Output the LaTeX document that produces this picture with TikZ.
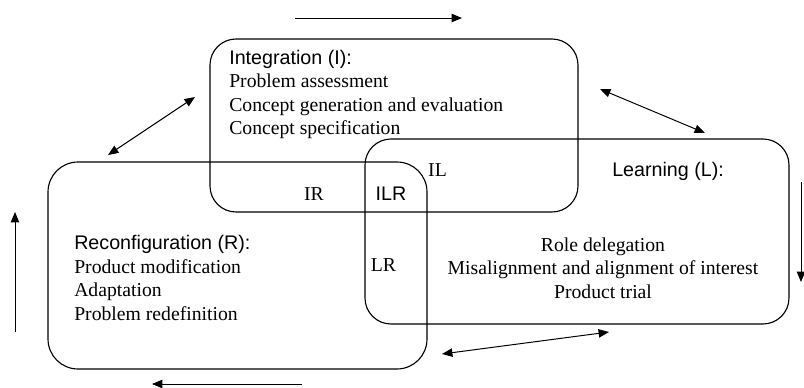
\documentclass[tikz,border=0pt]{standalone}
\usepackage{fontspec}
\setmainfont{Liberation Serif}
\setsansfont{Liberation Sans}
\usetikzlibrary{arrows.meta}

\begin{document}
\begin{tikzpicture}[
      x=0.025cm, y=-0.025cm,
      box/.style={line width=0.8pt, rounded corners=0.65cm},
      txt/.style={inner sep=0pt, font=\fontsize{14}{17}\selectfont},
      hd/.style={inner sep=0pt, font=\fontsize{14}{17}\sffamily},
      flow/.style={line width=0.7pt, -{Triangle[length=2.6mm, width=2.1mm]}},
      swap/.style={line width=0.7pt, {Triangle[length=2.6mm, width=2.1mm]}-{Triangle[length=2.6mm, width=2.1mm]}},
    ]
    \useasboundingbox (0,0) rectangle (804,388);
    % the three areas
    \draw[box] (210,39) rectangle (578,212);
    \draw[box] (365,139) rectangle (789,324);
    \draw[box, rounded corners=0.75cm] (48,162) rectangle (427,369);

    % integration
    \node[hd, anchor=base west] (ihd) at (229,64.5) {Integration (I):};
    \foreach \t [count=\i] in {Problem assessment, Concept generation and evaluation, Concept specification}
      \node[txt, anchor=base west] (i\i) at (229,64.5+23.4*\i) {\t};

    % learning
    \node[hd, anchor=base west] (lhd) at (612,176.5) {Learning (L):};
    \foreach \t [count=\i] in {Role delegation, Misalignment and alignment of interest, Product trial}
      \node[txt, anchor=base] (l\i) at (603,227.5+23.6*\i) {\t};

    % reconfiguration
    \node[hd, anchor=base west] (rhd) at (74,249.5) {Reconfiguration (R):};
    \foreach \t [count=\i] in {Product modification, Adaptation, Problem redefinition}
      \node[txt, anchor=base west] (r\i) at (74,249.5+23.5*\i) {\t};

    % overlaps
    \node[txt, anchor=base] (ir) at (314,200) {IR};
    \node[hd, anchor=base] (ilr) at (391,200) {ILR};
    \node[txt, anchor=base] (il) at (437.5,176.5) {IL};
    \node[txt, anchor=base] (lr) at (383.5,271.5) {LR};

    % arrows round the cycle
    \coordinate (ta) at (295,18);   \coordinate (tb) at (462,18);
    \coordinate (ea) at (801,182);  \coordinate (eb) at (801,282);
    \coordinate (ba) at (302,384);  \coordinate (bb) at (152,384);
    \coordinate (wa) at (15,332);   \coordinate (wb) at (15,212);
    \coordinate (ri1) at (108,155); \coordinate (ri2) at (195,97);
    \coordinate (il1) at (600,89);  \coordinate (il2) at (705,133);
    \coordinate (rl1) at (442,354); \coordinate (rl2) at (609,332);
    \draw[flow] (ta) -- (tb);
    \draw[flow] (ea) -- (eb);
    \draw[flow] (ba) -- (bb);
    \draw[flow] (wa) -- (wb);
    \draw[swap] (ri1) -- (ri2);
    \draw[swap] (il1) -- (il2);
    \draw[swap] (rl1) -- (rl2);
  \end{tikzpicture}
\end{document}
